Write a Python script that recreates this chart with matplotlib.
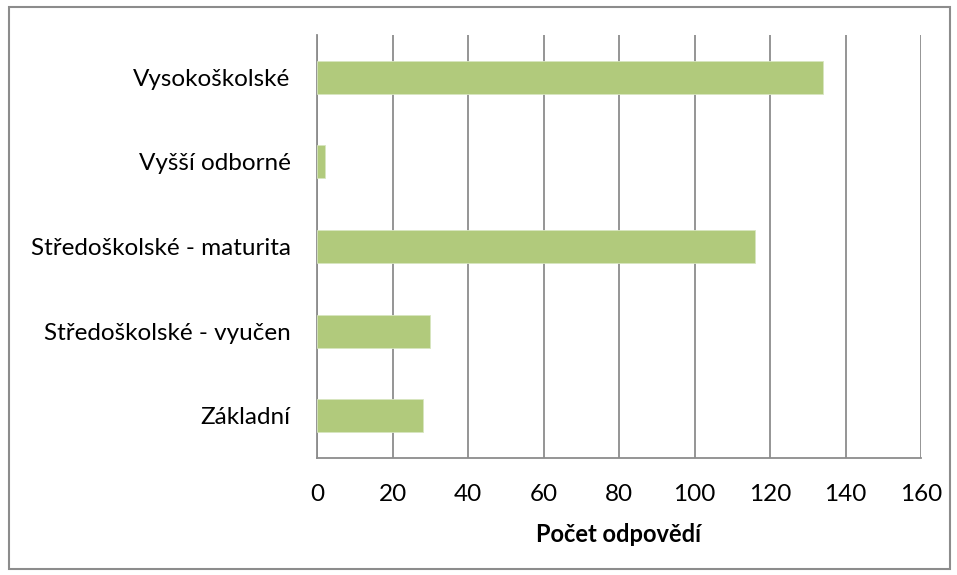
import matplotlib
matplotlib.use('Agg')
import matplotlib.pyplot as plt
from matplotlib.patches import Rectangle

categories = ['Základní', 'Středoškolské - vyučen', 'Středoškolské - maturita',
              'Vyšší odborné', 'Vysokoškolské']
counts = [28, 30, 116, 2, 134]
xticks = [0, 20, 40, 60, 80, 100, 120, 140, 160]

plt.rcParams['font.family'] = ['Lato', 'DejaVu Sans']

W, H = 957, 575
fig = plt.figure(figsize=(W / 100, H / 100), dpi=100)
# outer chart border
fig.patches.append(Rectangle((8.5 / W, 6.5 / H), 941 / W, 562 / H,
                             transform=fig.transFigure, fill=False,
                             edgecolor='#8c8c8c', linewidth=1.5))

ax = fig.add_axes([317 / W, (H - 458) / H, 604 / W, 423 / H])
ax.barh(range(len(categories)), counts, height=0.39, color='#b1ca7c',
        edgecolor='#d8e6c0', linewidth=0.6, zorder=3)
ax.set_xlim(0, 160)
ax.set_ylim(-0.5, len(categories) - 0.5)
ax.set_xticks(xticks)
ax.set_yticks(range(len(categories)))
ax.set_yticklabels(categories)
ax.grid(axis='x', color='#8c8c8c', linewidth=1.3, zorder=0)
for s in ['top', 'right']:
    ax.spines[s].set_visible(False)
ax.spines['left'].set_color('#8c8c8c')
ax.spines['bottom'].set_color('#8c8c8c')
ax.spines['left'].set_linewidth(1.3)
ax.spines['bottom'].set_linewidth(1.3)
ax.tick_params(axis='both', length=0, labelsize=17.5, colors='black')
ax.tick_params(axis='x', pad=19)
ax.tick_params(axis='y', pad=19)
ax.set_xlabel('Počet odpovědí', fontsize=17, fontweight='bold', labelpad=13)

fig.savefig('out.png', dpi=100)
